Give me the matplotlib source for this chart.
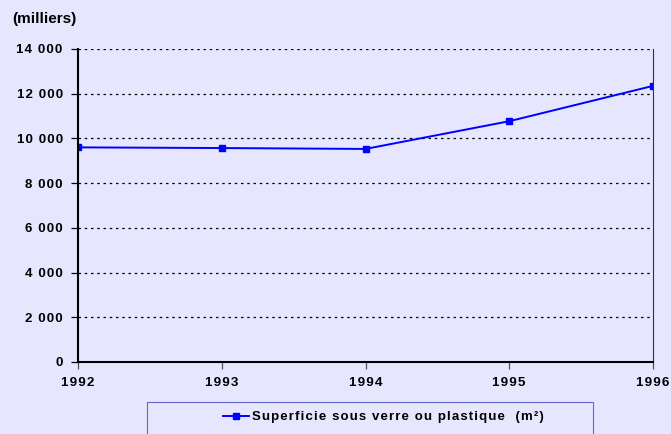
import matplotlib.pyplot as plt
from matplotlib.patches import Rectangle
from matplotlib.ticker import FuncFormatter

years = [1992, 1993, 1994, 1995, 1996]
surface = [9600, 9570, 9530, 10770, 12350]
y_ticks = [0, 2000, 4000, 6000, 8000, 10000, 12000, 14000]
series_name = 'Superficie sous verre ou plastique  (m²)'

bg = '#E6E6FF'
blue = '#0000FF'

plt.rcParams['font.family'] = ['Liberation Sans', 'DejaVu Sans']
plt.rcParams['font.weight'] = 'bold'


def spaced(s, gap='\u200a'):
    # the original uses letter-spaced text
    return gap.join(s)


fig = plt.figure(figsize=(6.71, 4.34), dpi=100, facecolor=bg)
ax = fig.add_axes([78 / 671, 72 / 434, 575 / 671, 313 / 434])
ax.set_facecolor(bg)

line, = ax.plot(years, surface, color=blue, lw=1.4, marker='s', ms=4.5,
                label=spaced(series_name))

ax.set_xlim(1992, 1996)
ax.set_ylim(0, 14000)
ax.set_xticks(years)
ax.set_xticklabels([spaced(str(y)) for y in years])
ax.set_yticks(y_ticks)
ax.yaxis.set_major_formatter(
    FuncFormatter(lambda v, p: spaced(f'{int(v):,}'.replace(',', ' '))))
ax.grid(axis='y', color='black', linestyle=(0, (2, 3)), lw=0.9)

ax.spines['top'].set_visible(False)
ax.spines['left'].set_linewidth(1.5)
ax.spines['bottom'].set_linewidth(1.5)
ax.spines['right'].set_linewidth(0.8)
ax.spines['right'].set_color('#333333')

ax.tick_params(axis='y', length=5, width=0.9, pad=6, labelsize=9.5)
ax.tick_params(axis='x', length=5, width=0.9, pad=6, labelsize=9.7, color='#555555')
for lab in ax.get_xticklabels() + ax.get_yticklabels():
    lab.set_fontweight('bold')

fig.text(12 / 671, 1 - 19 / 434, '(milliers)', fontsize=11, fontweight='bold',
         va='center', ha='left')

# legend box at the bottom
fig.patches.append(Rectangle((147 / 671, -0.02), 446 / 671, 0.02 + 32 / 434,
                             transform=fig.transFigure, facecolor=bg,
                             edgecolor='#6666CC', lw=0.8))
fig.legend(handles=[line], loc='center', bbox_to_anchor=(383 / 671, 17 / 434),
           frameon=False, handlelength=2.0, handletextpad=0.2,
           prop={'weight': 'bold', 'size': 9.5})

fig.savefig('out.png', dpi=100, facecolor=bg)
